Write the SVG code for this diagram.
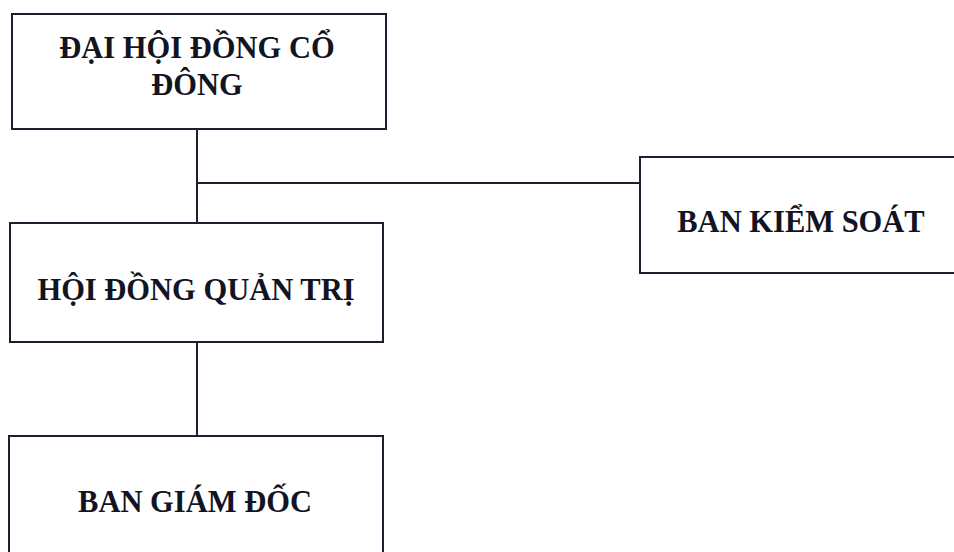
<svg xmlns="http://www.w3.org/2000/svg" width="954" height="552" viewBox="0 0 954 552">
<style>
.box{fill:#fff;stroke:#1c1f2e;stroke-width:2}
.lbl{font-family:"Liberation Serif","Times New Roman",serif;font-weight:bold;font-size:30.5px;fill:#12141f;text-anchor:middle}
.con{stroke:#1c1f2e;stroke-width:2;fill:none}
</style>
<rect width="954" height="552" fill="#fff"/>
<g id="connectors">
<line class="con" x1="197" y1="129" x2="197" y2="223"/>
<line class="con" x1="197" y1="183" x2="640" y2="183"/>
<line class="con" x1="197" y1="342" x2="197" y2="436"/>
</g>
<g id="node-dhdcd">
<rect class="box" x="12" y="14" width="374" height="115"/>
<text class="lbl" x="197" y="58">ĐẠI HỘI ĐỒNG CỔ</text>
<text class="lbl" x="197" y="95">ĐÔNG</text>
</g>
<g id="node-hdqt">
<rect class="box" x="10" y="223" width="373" height="119"/>
<text class="lbl" x="196" y="300">HỘI ĐỒNG QUẢN TRỊ</text>
</g>
<g id="node-bgd">
<rect class="box" x="9" y="436" width="374" height="130"/>
<text class="lbl" x="195" y="512">BAN GIÁM ĐỐC</text>
</g>
<g id="node-bks">
<rect class="box" x="640" y="157" width="330" height="116"/>
<text class="lbl" x="801" y="232">BAN KIỂM SOÁT</text>
</g>
</svg>
